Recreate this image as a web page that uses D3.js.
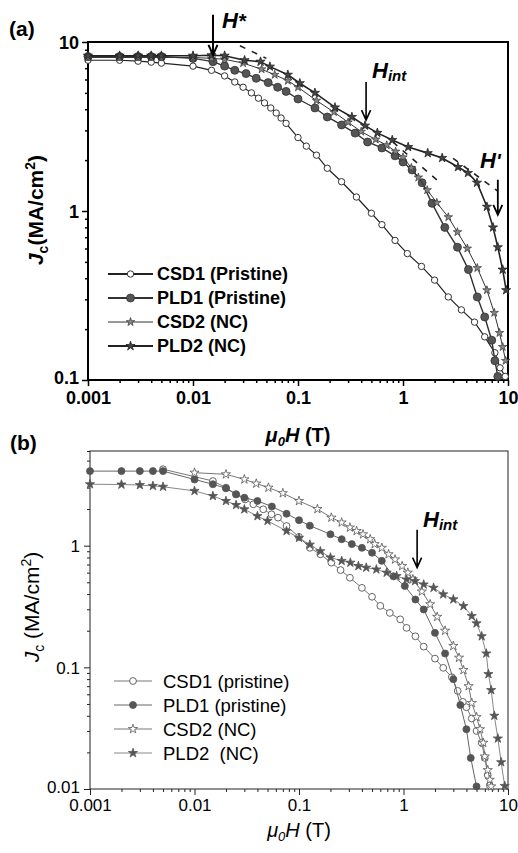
<!DOCTYPE html>
<html><head><meta charset="utf-8">
<script src="https://cdn.jsdelivr.net/npm/d3@7"></script>
<style>
body{margin:0;background:#fff}
svg{display:block}
text{font-family:"Liberation Sans",Arial,Helvetica,sans-serif;white-space:pre}
</style>
</head><body>
<svg id="c" width="518" height="853"></svg>
<script>
// ---------------- DATA ----------------
const seriesKeys = ["CSD1","PLD1","CSD2","PLD2"];
const legendA = ["CSD1 (Pristine)","PLD1 (Pristine)","CSD2 (NC)","PLD2 (NC)"];
const legendB = ["CSD1 (pristine)","PLD1 (pristine)","CSD2 (NC)","PLD2  (NC)"];

const xTicks = [0.001,0.01,0.1,1,10];
const xTickLabels = ["0.001","0.01","0.1","1","10"];
const aYTicks = [0.1,1,10];
const aYTickLabels = ["0.1","1","10"];
const bYTicks = [0.01,0.1,1];
const bYTickLabels = ["0.01","0.1","1"];

// panel (a)
const aCSD1_x = [0.001,0.002,0.003,0.004,0.005,0.01,0.015,0.02,0.025,0.03,0.036,0.042,0.048,0.055,0.062,0.069,0.077,0.1,0.12,0.15,0.19,0.26,0.36,0.5,0.63,0.84,1.1,1.5,2.0,2.7,3.6,4.8,6.0,7.5,8.4,9.4];
const aCSD1_y = [7.8,7.8,7.7,7.6,7.5,7.2,6.8,6.3,5.8,5.4,5.0,4.65,4.36,4.07,3.8,3.55,3.3,2.72,2.42,2.14,1.79,1.49,1.21,0.97,0.83,0.67,0.56,0.47,0.39,0.31,0.26,0.22,0.18,0.145,0.118,0.105];
const aPLD1_x = [0.001,0.002,0.003,0.004,0.005,0.01,0.0155,0.02,0.025,0.032,0.04,0.052,0.064,0.077,0.1,0.145,0.19,0.26,0.35,0.46,0.63,0.84,1.0,1.22,1.52,1.89,2.5,3.3,4.2,5.1,6.0,7.0,7.5,8.0];
const aPLD1_y = [8.2,8.2,8.2,8.2,8.2,8.0,7.65,7.2,6.8,6.5,6.1,5.75,5.4,5.1,4.6,4.07,3.6,3.23,2.89,2.56,2.36,2.12,1.95,1.75,1.47,1.11,0.80,0.61,0.45,0.31,0.236,0.172,0.13,0.105];
const aCSD2_x = [0.001,0.002,0.003,0.004,0.005,0.01,0.015,0.02,0.03,0.045,0.06,0.08,0.1,0.15,0.22,0.3,0.4,0.55,0.7,0.85,1.0,1.2,1.4,1.7,2.1,2.7,3.3,4.1,5.1,6.3,7.4,8.3,8.9,9.5];
const aCSD2_y = [8.1,8.1,8.1,8.1,8.1,8.1,8.0,7.9,7.5,6.9,6.4,5.9,5.4,4.5,3.85,3.35,2.95,2.65,2.45,2.25,2.08,1.8,1.58,1.33,1.12,0.92,0.75,0.6,0.46,0.34,0.25,0.19,0.157,0.13];
const aPLD2_x = [0.001,0.002,0.003,0.004,0.005,0.01,0.015,0.02,0.031,0.044,0.054,0.08,0.104,0.145,0.225,0.326,0.435,0.57,0.79,1.12,1.72,2.36,3.34,4.16,5.07,6.3,7.2,8.0,8.9,9.6];
const aPLD2_y = [8.3,8.3,8.3,8.3,8.3,8.3,8.35,8.3,7.8,7.65,7.15,6.4,5.7,5.0,4.1,3.6,3.2,2.9,2.63,2.39,2.2,2.06,1.82,1.68,1.47,1.06,0.80,0.61,0.45,0.34];
// dashed fit segments in (a)
const aFit1_x = [0.028,0.05]; const aFit1_y = [9.5,8.0];
const aFit2_x = [0.8,2.2];    const aFit2_y = [2.56,1.49];
const aFit3_x = [3.0,8.0];    const aFit3_y = [2.05,1.31];

// panel (b)
const bCSD1_x = [0.005,0.015,0.02,0.025,0.0305,0.0366,0.0455,0.0546,0.063,0.076,0.1,0.127,0.16,0.204,0.25,0.307,0.4,0.5,0.6,0.74,0.93,1.07,1.3,1.56,2.0,2.4,2.9,3.3,3.7,4.0,4.5,5.0,5.6,6.0,6.4,6.7];
const bCSD1_y = [4.25,3.4,3.0,2.65,2.4,2.19,1.99,1.81,1.70,1.45,1.18,0.96,0.85,0.725,0.63,0.545,0.45,0.38,0.32,0.28,0.248,0.211,0.18,0.148,0.118,0.099,0.083,0.064,0.052,0.047,0.038,0.03,0.024,0.018,0.013,0.0107];
const bPLD1_x = [0.001,0.002,0.003,0.004,0.005,0.01,0.015,0.02,0.025,0.03,0.04,0.055,0.076,0.1,0.127,0.2,0.256,0.32,0.4,0.5,0.62,0.8,1.03,1.3,1.56,2.0,2.5,3.0,3.5,4.0,4.4,5.0];
const bPLD1_y = [4.1,4.1,4.1,4.1,4.1,3.5,3.2,2.96,2.64,2.48,2.33,2.1,1.83,1.62,1.46,1.24,1.13,1.03,0.96,0.875,0.75,0.56,0.466,0.361,0.299,0.192,0.13,0.08,0.049,0.031,0.018,0.0105];
const bCSD2_x = [0.01,0.02,0.03,0.039,0.051,0.07,0.1,0.15,0.204,0.256,0.307,0.356,0.41,0.48,0.53,0.62,0.72,0.83,0.97,1.1,1.23,1.5,1.8,2.1,2.5,3.0,3.4,3.75,4.2,4.5,5.0,5.4,5.8,6.0,6.4,6.7,6.9];
const bCSD2_y = [3.98,3.86,3.51,3.24,3.0,2.7,2.33,2.0,1.70,1.55,1.41,1.32,1.24,1.13,1.03,0.96,0.85,0.77,0.68,0.6,0.53,0.42,0.33,0.26,0.2,0.15,0.12,0.095,0.07,0.051,0.039,0.031,0.024,0.0185,0.0143,0.0119,0.0105];
const bPLD2_x = [0.001,0.002,0.003,0.004,0.005,0.01,0.015,0.02,0.025,0.03,0.04,0.05,0.076,0.1,0.127,0.16,0.2,0.256,0.31,0.37,0.44,0.55,0.69,0.86,1.07,1.29,1.56,1.94,2.4,3.0,3.75,4.5,5.0,5.6,6.2,6.5,6.9,7.4,8.0,8.6,9.3];
const bPLD2_y = [3.2,3.18,3.15,3.1,3.05,2.82,2.56,2.33,2.16,1.99,1.75,1.6,1.32,1.16,1.02,0.9,0.8,0.75,0.725,0.68,0.66,0.638,0.6,0.563,0.528,0.512,0.48,0.451,0.398,0.362,0.319,0.264,0.23,0.18,0.13,0.088,0.065,0.04,0.026,0.0166,0.0106];

// annotation arrows (field value, tip Jc value)
const aArrowX = [0.0155,0.445,8.0];
const aArrowTip = [8.4,3.45,0.95];
const bArrowX = [1.35];
const bArrowTip = [0.66];

// ---------------- DRAW ----------------
const svg = d3.select("#c");
const FONT = '"Liberation Sans",Arial,sans-serif';
const A = {l:88,r:508,t:42,b:380};
const B = {l:90,r:508,t:451,b:789};
const ax = d3.scaleLog().domain([0.001,10]).range([A.l,A.r]);
const ay = d3.scaleLog().domain([0.1,10]).range([A.b,A.t]);
const bx = d3.scaleLog().domain([0.001,10]).range([B.l,B.r]);
const by = d3.scaleLog().domain([0.01,6]).range([B.b,B.t]);

function minors(dom){
  const out=[]; const lo=Math.floor(Math.log10(dom[0])), hi=Math.ceil(Math.log10(dom[1]));
  for(let e=lo;e<hi;e++) for(let k=2;k<=9;k++){const v=k*Math.pow(10,e); if(v>=dom[0]&&v<=dom[1]) out.push(v);}
  return out;
}

function axes(P,x,y,xt,xl,yt,yl,opt){
  const g=svg.append("g");
  g.append("g").attr("transform",`translate(0,${P.b})`)
    .call(d3.axisBottom(x).tickValues(minors(x.domain())).tickSize(opt.minor).tickFormat(""))
    .call(s=>{s.select(".domain").remove(); s.selectAll("line").attr("stroke",opt.col).attr("stroke-width",opt.tw);});
  g.append("g").attr("transform",`translate(${P.l},0)`)
    .call(d3.axisLeft(y).tickValues(minors(y.domain())).tickSize(opt.minor).tickFormat(""))
    .call(s=>{s.select(".domain").remove(); s.selectAll("line").attr("stroke",opt.col).attr("stroke-width",opt.tw);});
  const gx=g.append("g").attr("transform",`translate(0,${P.b})`)
    .call(d3.axisBottom(x).tickValues(xt).tickSize(opt.major).tickPadding(opt.padX).tickFormat((d,i)=>xl[i]));
  const gy=g.append("g").attr("transform",`translate(${P.l},0)`)
    .call(d3.axisLeft(y).tickValues(yt).tickSize(opt.major).tickPadding(opt.padY).tickFormat((d,i)=>yl[i]));
  [gx,gy].forEach(s=>{
    s.select(".domain").remove();
    s.selectAll("line").attr("stroke",opt.col).attr("stroke-width",opt.tw);
    s.selectAll("text").attr("fill","#000").style("font-family",FONT)
      .style("font-size",opt.fs+"px").style("font-weight",opt.fw);
  });
  gy.selectAll("text").attr("dy","0.36em");
  // lowest y label nudged up slightly so it clears the first x label
  gy.selectAll("text").filter((d,i)=>i===0).attr("dy","0.18em");
  g.append("rect").attr("x",P.l).attr("y",P.t).attr("width",P.r-P.l).attr("height",P.b-P.t)
    .attr("fill","none").attr("stroke",opt.col).attr("stroke-width",opt.fw_frame);
}

axes(A,ax,ay,xTicks,xTickLabels,aYTicks,aYTickLabels,{minor:3,major:6,padX:5,padY:3,col:"#000",tw:1.5,fs:18,fw:"bold",fw_frame:2});
axes(B,bx,by,xTicks,xTickLabels,bYTicks,bYTickLabels,{minor:3,major:6,padX:4,padY:4,col:"#222",tw:1,fs:17,fw:"normal",fw_frame:1});

const zip=(xs,ys)=>xs.map((v,i)=>[v,ys[i]]);
const star=d3.symbol().type(d3.symbolStar);

function series(x,y,data,st){
  const g=svg.append("g");
  g.append("path").datum(data).attr("fill","none").attr("stroke",st.line).attr("stroke-width",st.lw)
    .attr("d",d3.line().x(d=>x(d[0])).y(d=>y(d[1])));
  const pts=g.selectAll("g.p").data(data).join("g").attr("transform",d=>`translate(${x(d[0])},${y(d[1])})`);
  drawMarker(pts,st);
}
function drawMarker(sel,st){
  if(st.shape==="circle") sel.append("circle").attr("r",st.r).attr("fill",st.fill).attr("stroke",st.stroke).attr("stroke-width",st.sw);
  else sel.append("path").attr("d",star.size(st.size)()).attr("fill",st.fill).attr("stroke",st.stroke).attr("stroke-width",st.sw);
}

const stA = {
  CSD1:{shape:"circle",r:3.2,fill:"#fff",stroke:"#333",sw:1,line:"#222",lw:1.2},
  PLD1:{shape:"circle",r:4,fill:"#555",stroke:"#333",sw:0.8,line:"#333",lw:1.4},
  CSD2:{shape:"star",size:22,fill:"#888",stroke:"#333",sw:0.7,line:"#333",lw:1},
  PLD2:{shape:"star",size:26,fill:"#444",stroke:"#222",sw:0.8,line:"#222",lw:1.6}
};
const stB = {
  CSD1:{shape:"circle",r:3.4,fill:"#fff",stroke:"#555",sw:0.9,line:"#777",lw:1},
  PLD1:{shape:"circle",r:3.5,fill:"#555",stroke:"#555",sw:0.8,line:"#666",lw:1},
  CSD2:{shape:"star",size:26,fill:"#fff",stroke:"#555",sw:0.8,line:"#777",lw:1},
  PLD2:{shape:"star",size:26,fill:"#555",stroke:"#555",sw:0.8,line:"#888",lw:1}
};
const dataA={CSD1:zip(aCSD1_x,aCSD1_y),PLD1:zip(aPLD1_x,aPLD1_y),CSD2:zip(aCSD2_x,aCSD2_y),PLD2:zip(aPLD2_x,aPLD2_y)};
const dataB={CSD1:zip(bCSD1_x,bCSD1_y),PLD1:zip(bPLD1_x,bPLD1_y),CSD2:zip(bCSD2_x,bCSD2_y),PLD2:zip(bPLD2_x,bPLD2_y)};

seriesKeys.forEach(k=>series(ax,ay,dataA[k],stA[k]));
seriesKeys.forEach(k=>series(bx,by,dataB[k],stB[k]));

[[aFit1_x,aFit1_y],[aFit2_x,aFit2_y],[aFit3_x,aFit3_y]].forEach(([xs,ys])=>{
  svg.append("path").datum(zip(xs,ys)).attr("fill","none").attr("stroke","#222").attr("stroke-width",1.6)
    .attr("stroke-dasharray","6,7").attr("d",d3.line().x(d=>ax(d[0])).y(d=>ay(d[1])));
});

function legend(x0,x1,ys,labels,st,fs,fw,tx,lw){
  seriesKeys.forEach((k,i)=>{
    const y=ys[i];
    svg.append("line").attr("x1",x0).attr("x2",x1).attr("y1",y).attr("y2",y).attr("stroke",st[k].line).attr("stroke-width",lw[i]);
    drawMarker(svg.append("g").attr("transform",`translate(${(x0+x1)/2},${y})`),st[k]);
    svg.append("text").attr("x",tx).attr("y",y).attr("dy","0.36em").style("font-size",fs+"px").style("font-weight",fw).text(labels[i]);
  });
}
legend(108,153,[274,298,322,346],legendA,stA,18,"bold",157,[1.8,1.8,1,1.8]);
legend(114,152,[681,705,729,753],legendB,stB,18.5,"normal",163,[1,1,1,1]);

svg.append("text").attr("x",9).attr("y",36).style("font-size","21px").style("font-weight","bold").text("(a)");
svg.append("text").attr("x",10).attr("y",450).style("font-size","21px").style("font-weight","bold").text("(b)");

function xTitle(cx,y,bold){
  const t=svg.append("text").attr("x",cx).attr("y",y).attr("text-anchor","middle").style("font-size","20px").style("font-weight",bold?"bold":"normal");
  t.append("tspan").style("font-style","italic").text("\u03bc");
  t.append("tspan").style("font-style","italic").style("font-size","13px").attr("dy",4).text("0");
  t.append("tspan").style("font-style","italic").attr("dy",-4).text("H");
  t.append("tspan").text(" (T)");
}
xTitle(298,442,true);
xTitle(299,837,false);

function yTitle(x,cy,bold,sep){
  const t=svg.append("text").attr("transform",`translate(${x},${cy}) rotate(-90)`).attr("text-anchor","middle")
    .style("font-size","21px").style("font-weight",bold?"bold":"normal");
  t.append("tspan").style("font-style","italic").text("J");
  t.append("tspan").style("font-size","14px").attr("dy",5).text("c");
  t.append("tspan").attr("dy",-5).text(sep+"(MA/cm");
  t.append("tspan").style("font-size","14px").attr("dy",-8).text("2");
  t.append("tspan").attr("dy",8).text(")");
}
yTitle(43,210,true,"");
yTitle(39,607,false," ");

function arrow(x,tipY,len,w){
  svg.append("path").attr("fill","none").attr("stroke","#000").attr("stroke-width",w)
    .attr("d",`M${x},${tipY-len}L${x},${tipY}M${x-4.5},${tipY-10}L${x},${tipY}L${x+4.5},${tipY-10}`);
}
arrow(ax(aArrowX[0]),ay(aArrowTip[0]),40,2);
arrow(ax(aArrowX[1]),ay(aArrowTip[1]),38,1.6);
arrow(ax(aArrowX[2]),ay(aArrowTip[2]),35,1.8);
arrow(bx(bArrowX[0]),by(bArrowTip[0]),38,1.6);

function hLabel(x,y,sub,sup){
  const t=svg.append("text").attr("x",x).attr("y",y).style("font-size","22px").style("font-weight","bold").style("font-style","italic");
  t.append("tspan").text("H");
  if(sub) t.append("tspan").style("font-size","15px").attr("dy",3).text(sub);
  if(sup) t.append("tspan").style("font-size","20px").text(sup);
}
hLabel(222,28,null,"*");
hLabel(372,78,"int",null);
hLabel(480,168,null,"'");
hLabel(423,527,"int",null);
</script>
</body></html>
